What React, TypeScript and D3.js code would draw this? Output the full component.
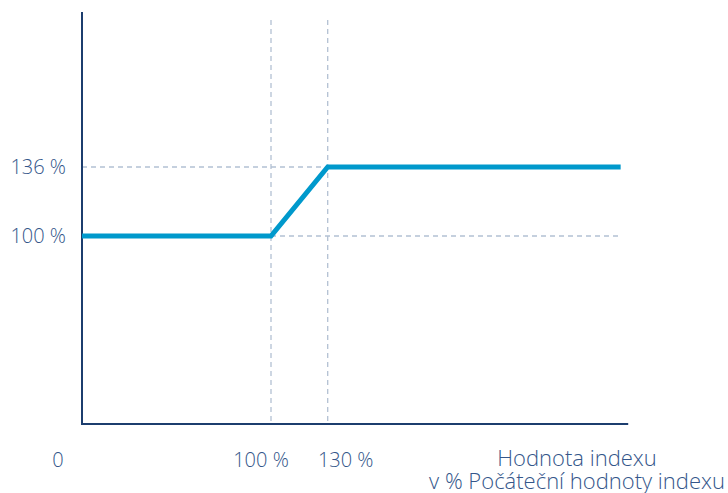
import React from "react";
import * as d3 from "d3";

const linePoints: [number, number][] = [
  [0, 100],
  [100, 100],
  [130, 136],
  [285, 136],
];
const xTicks = [
  { v: 100, label: "100 %", dx: -10 },
  { v: 130, label: "130 %", dx: 18 },
];
const yTicks = [
  { v: 136, label: "136 %" },
  { v: 100, label: "100 %" },
];
const xTitle = ["Hodnota indexu", "v % Počáteční hodnoty indexu"];

const W = 728;
const H = 493;

export default function App() {
  const x = d3.scaleLinear().domain([0, 100]).range([82, 271]);
  const y = d3.scaleLinear().domain([100, 136]).range([236, 167]);
  const x0 = x(0);
  const yAxisBottom = 424;
  const xEnd = x(289);
  const yTop = 12;
  const line = d3
    .line<[number, number]>()
    .x((d) => x(d[0]))
    .y((d) => y(d[1]));
  const textColor = "#34568a";
  const font = "'Open Sans', 'Noto Sans', sans-serif";
  const fs = 20;
  return (
    <svg
      width={W}
      height={H}
      style={{ position: "absolute", left: 0, top: 0 }}
      fontFamily={font}
    >
      {yTicks.map((t) => (
        <line
          key={"gy" + t.v}
          x1={x0}
          x2={x(285)}
          y1={y(t.v)}
          y2={y(t.v)}
          stroke="#b3c1d3"
          strokeWidth={1.3}
          strokeDasharray="5,4"
        />
      ))}
      {xTicks.map((t) => (
        <line
          key={"gx" + t.v}
          x1={x(t.v)}
          x2={x(t.v)}
          y1={20}
          y2={yAxisBottom}
          stroke="#b3c1d3"
          strokeWidth={1.3}
          strokeDasharray="5,4"
        />
      ))}
      <line x1={x0} x2={x0} y1={yTop} y2={yAxisBottom} stroke="#1c3d6e" strokeWidth={2} />
      <line x1={x0 - 1} x2={xEnd} y1={yAxisBottom} y2={yAxisBottom} stroke="#1c3d6e" strokeWidth={2} />
      <path
        d={line(linePoints) || ""}
        fill="none"
        stroke="#0099cc"
        strokeWidth={5}
        strokeLinejoin="miter"
      />
      {yTicks.map((t) => (
        <text
          key={"ly" + t.v}
          x={66}
          y={y(t.v)}
          dy="0.36em"
          textAnchor="end"
          fontSize={fs}
          fontWeight={300}
          fill={textColor}
        >
          {t.label}
        </text>
      ))}
      <text x={58} y={467} textAnchor="middle" fontSize={fs} fontWeight={300} fill={textColor}>
        0
      </text>
      {xTicks.map((t) => (
        <text
          key={"lx" + t.v}
          x={x(t.v) + t.dx}
          y={467}
          textAnchor="middle"
          fontSize={fs}
          fontWeight={300}
          fill={textColor}
        >
          {t.label}
        </text>
      ))}
      {xTitle.map((s, i) => (
        <text
          key={s}
          x={577}
          y={466 + i * 23}
          textAnchor="middle"
          fontSize={22}
          fontWeight={300}
          fill={textColor}
        >
          {s}
        </text>
      ))}
    </svg>
  );
}
